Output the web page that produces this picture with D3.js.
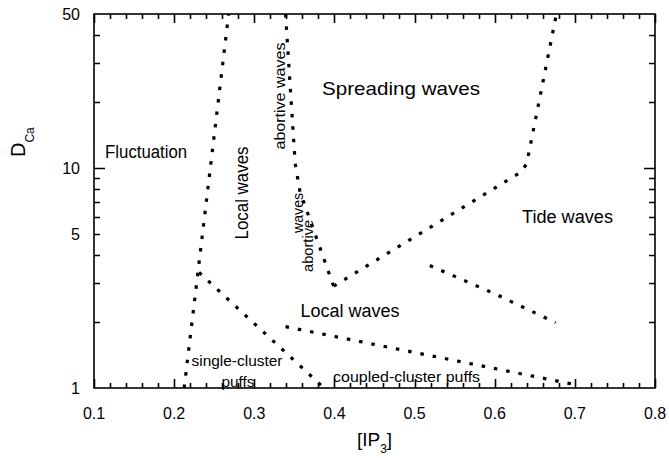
<!DOCTYPE html>
<html>
<head>
<meta charset="utf-8">
<script src="https://cdn.jsdelivr.net/npm/d3@7"></script>
<style>
  body { margin: 0; background: #fff; }
  text { font-family: "Liberation Sans", Arial, sans-serif; fill: #000; }
</style>
</head>
<body>
<script>
// x ticks and y tick labels
const xTicks = [0.1, 0.2, 0.3, 0.4, 0.5, 0.6, 0.7, 0.8];
const yLabels = [1, 5, 10, 50];
const yMinor = [2, 3, 4, 5, 6, 7, 8, 9, 20, 30, 40];

// phase boundaries, [IP3, DCa]
const fluctuationEdge = [[0.2125, 1.0], [0.268, 50]];
const singlePuffEdge = [[0.231, 3.35], [0.387, 1.0]];
const abortiveEdge = [[0.339, 50], [0.351, 10.5], [0.357, 7.8], [0.399, 2.9]];
const spreadingEdge = [[0.399, 2.9], [0.634, 9.63], [0.640, 10.5], [0.677, 50]];
const tideEdge = [[0.519, 3.6], [0.60, 2.68], [0.676, 1.98]];
const coupledEdge = [[0.339, 1.9], [0.698, 1.04]];

const boundaries = [fluctuationEdge, singlePuffEdge, abortiveEdge, spreadingEdge, tideEdge, coupledEdge];

// region labels (anchor = middle of text, on its baseline)
const labels = [
    {text: "Fluctuation", x: 0.165, y: 11.1, size: 18, len: 82, rot: false},
    {text: "Spreading waves", x: 0.4831, y: 21.4, size: 19, len: 158, rot: false},
    {text: "Tide waves", x: 0.6908, y: 5.62, size: 18, len: 91, rot: false},
    {text: "Local waves", x: 0.4194, y: 2.10, size: 18, len: 99, rot: false},
    {text: "single-cluster", x: 0.2784, y: 1.259, size: 15, len: 91, rot: false},
    {text: "puffs", x: 0.2797, y: 1.01, size: 15, len: 33, rot: false},
    {text: "coupled-cluster puffs", x: 0.49, y: 1.065, size: 15, len: 147, rot: false},
    {text: "Local waves", x: 0.2922, y: 7.69, size: 18, len: 93, rot: true},
    {text: "abortive waves", x: 0.3383, y: 21.2, size: 14, len: 107, rot: true},
    {text: "waves", x: 0.3608, y: 6.24, size: 14, len: 40, rot: true},
    {text: "abortive", x: 0.3733, y: 4.42, size: 14, len: 52, rot: true}
];

const width = 669;
const height = 458;
const plotLeft = 94, plotRight = 655, plotTop = 14, plotBottom = 388;

const svg = d3.select("body")
    .append("svg")
    .attr("width", width)
    .attr("height", height);

const x = d3.scaleLinear()
    .domain([0.1, 0.8])
    .range([plotLeft, plotRight]);

const y = d3.scaleLog()
    .domain([1, 50])
    .range([plotBottom, plotTop]);

// frame
svg.append("rect")
    .attr("x", plotLeft).attr("y", plotTop)
    .attr("width", plotRight - plotLeft).attr("height", plotBottom - plotTop)
    .attr("fill", "none")
    .attr("stroke", "#000")
    .attr("stroke-width", 1.6);

// minor x ticks every 0.02
const xAll = d3.range(0, 36).map(i => 0.1 + i * 0.02);
const isMajor = v => Math.abs(v * 10 - Math.round(v * 10)) < 0.01;

// ticks, all pointing inward, drawn as one path
let tickPath = "";
xAll.forEach(v => {
    const px = Math.round(x(v)) + 0.5;
    const len = isMajor(v) ? 9 : 5;
    tickPath += `M${px},${plotBottom}V${plotBottom - len}`;
    tickPath += `M${px},${plotTop}V${plotTop + len}`;
});
yMinor.concat([10]).forEach(v => {
    const py = Math.round(y(v)) + 0.5;
    const len = v === 10 ? 11 : 6;
    tickPath += `M${plotLeft},${py}H${plotLeft + len}`;
    tickPath += `M${plotRight},${py}H${plotRight - len}`;
});

svg.append("path")
    .attr("d", tickPath)
    .attr("fill", "none")
    .attr("stroke", "#000")
    .attr("stroke-width", 1.6);

// tick labels
svg.selectAll("text.xtick")
    .data(xTicks)
    .enter()
    .append("text")
    .attr("class", "xtick")
    .attr("x", d => x(d))
    .attr("y", 419)
    .attr("text-anchor", "middle")
    .attr("font-size", 16)
    .text(d3.format(".1f"));

svg.selectAll("text.ytick")
    .data(yLabels)
    .enter()
    .append("text")
    .attr("class", "ytick")
    .attr("x", 80)
    .attr("y", d => y(d))
    .attr("dy", "0.36em")
    .attr("text-anchor", "end")
    .attr("font-size", 16)
    .text(d3.format("d"));

// dotted boundaries
const line = d3.line()
    .x(d => x(d[0]))
    .y(d => y(d[1]));

svg.selectAll("path.edge")
    .data(boundaries)
    .enter()
    .append("path")
    .attr("class", "edge")
    .attr("fill", "none")
    .attr("stroke", "#000")
    .attr("stroke-width", 3.2)
    .attr("stroke-dasharray", "3.5,9")
    .attr("d", line);

// region labels
svg.selectAll("text.region")
    .data(labels)
    .enter()
    .append("text")
    .attr("class", "region")
    .attr("text-anchor", "middle")
    .attr("font-size", d => d.size)
    .attr("textLength", d => d.len)
    .attr("lengthAdjust", "spacingAndGlyphs")
    .attr("transform", d => d.rot
        ? `translate(${x(d.x)},${y(d.y)}) rotate(-90)`
        : `translate(${x(d.x)},${y(d.y)})`)
    .text(d => d.text);

// axis titles
const xt = svg.append("text")
    .attr("x", (plotLeft + plotRight) / 2)
    .attr("y", 446)
    .attr("text-anchor", "middle")
    .attr("font-size", 19);
xt.append("tspan").text("[IP");
xt.append("tspan").attr("font-size", 12).attr("dy", 7).text("3");
xt.append("tspan").attr("dy", -7).text("]");

const yt = svg.append("text")
    .attr("transform", "translate(25,157) rotate(-90)")
    .attr("font-size", 20);
yt.append("tspan").text("D");
yt.append("tspan").attr("font-size", 12).attr("dy", 9).text("Ca");
</script>
</body>
</html>
